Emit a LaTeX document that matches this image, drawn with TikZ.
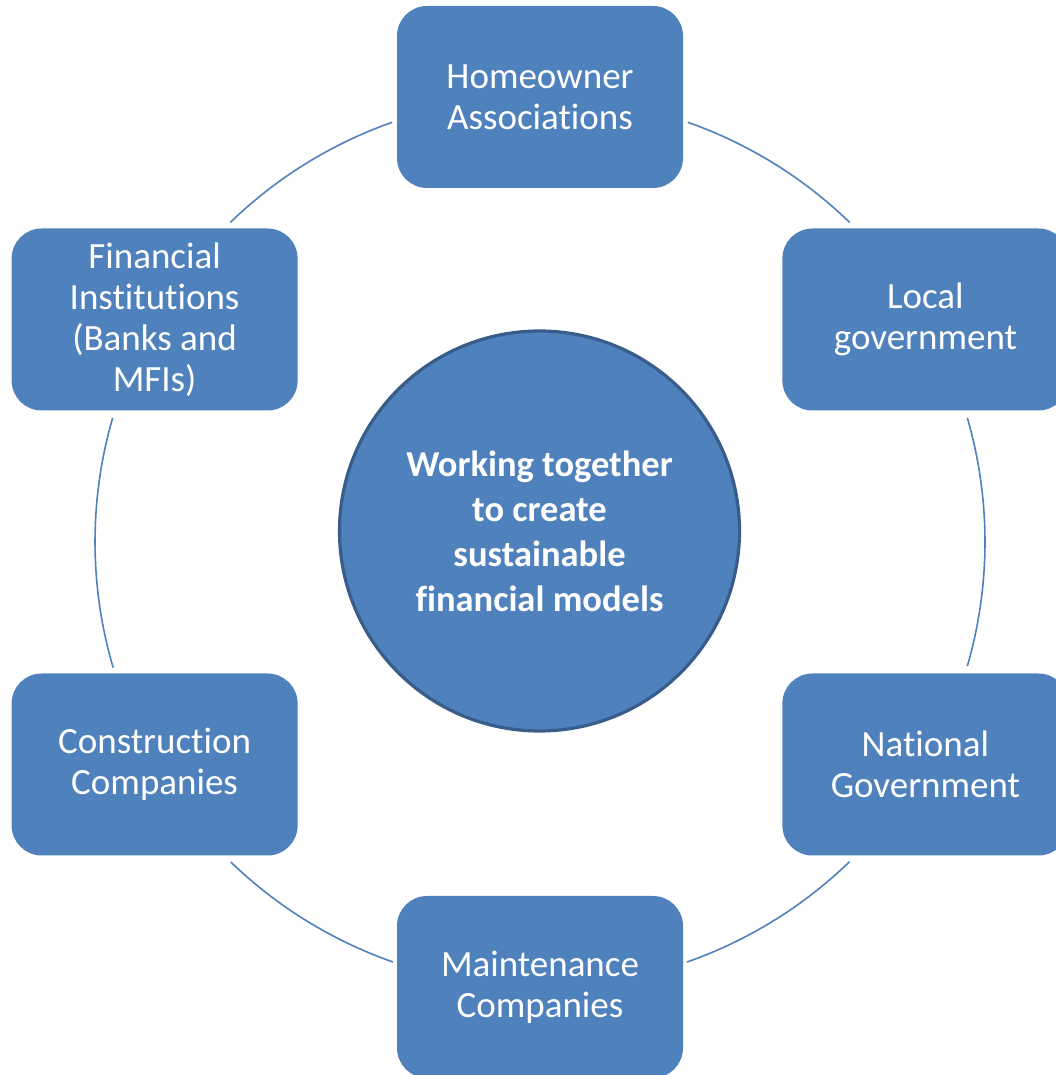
\documentclass[tikz,border=0pt]{standalone}
\usepackage{fontspec}
\setmainfont[Ligatures=NoCommon]{Carlito}
\definecolor{boxblue}{HTML}{4F81BD}
\definecolor{rimblue}{HTML}{385D8A}
\tikzset{
  entity/.style={rectangle, rounded corners=30pt, fill=boxblue, text=white,
    minimum width=286pt, minimum height=182pt, align=center,
    font=\fontsize{37}{41}\selectfont},
  hub/.style={circle, fill=boxblue, draw=rimblue, line width=3.2pt, text=white,
    minimum size=400pt, align=center, font=\fontsize{36.5}{45}\selectfont\bfseries},
  link/.style={boxblue, line width=1.6pt}
}
\begin{document}
\begin{tikzpicture}[x=1pt,y=1pt]
		\useasboundingbox (0,0) rectangle (1056,1075);
		\coordinate (ring) at (540,533);

		% arcs of the cycle
		\foreach \a/\b in {45.9/70.6, 109.4/134.1, 163.8/196.4, 226/250.7, 289.3/314.1, -16.2/16.2}
			\draw[link] ([shift={(\a:445pt)}]ring) arc[start angle=\a, end angle=\b, radius=445pt];

		\node[hub] (goal) at (539.5,544) {Working together\\to create\\sustainable\\financial models};

		\node[entity] (hoa)   at ([shift={(90:445pt)}]ring)  {Homeowner\\Associations};
		\node[entity] (local) at ([shift={(30:445pt)}]ring)  {Local\\government};
		\node[entity] (natl)  at ([shift={(-30:445pt)}]ring) {National\\Government};
		\node[entity] (maint) at ([shift={(-90:445pt)}]ring) {Maintenance\\Companies};
		\node[entity] (build) at ([shift={(210:445pt)}]ring) {Construction\\Companies};
		\node[entity] (bank)  at ([shift={(150:445pt)}]ring) {Financial\\Institutions\\(Banks and\\MFIs)};
	\end{tikzpicture}
\end{document}
